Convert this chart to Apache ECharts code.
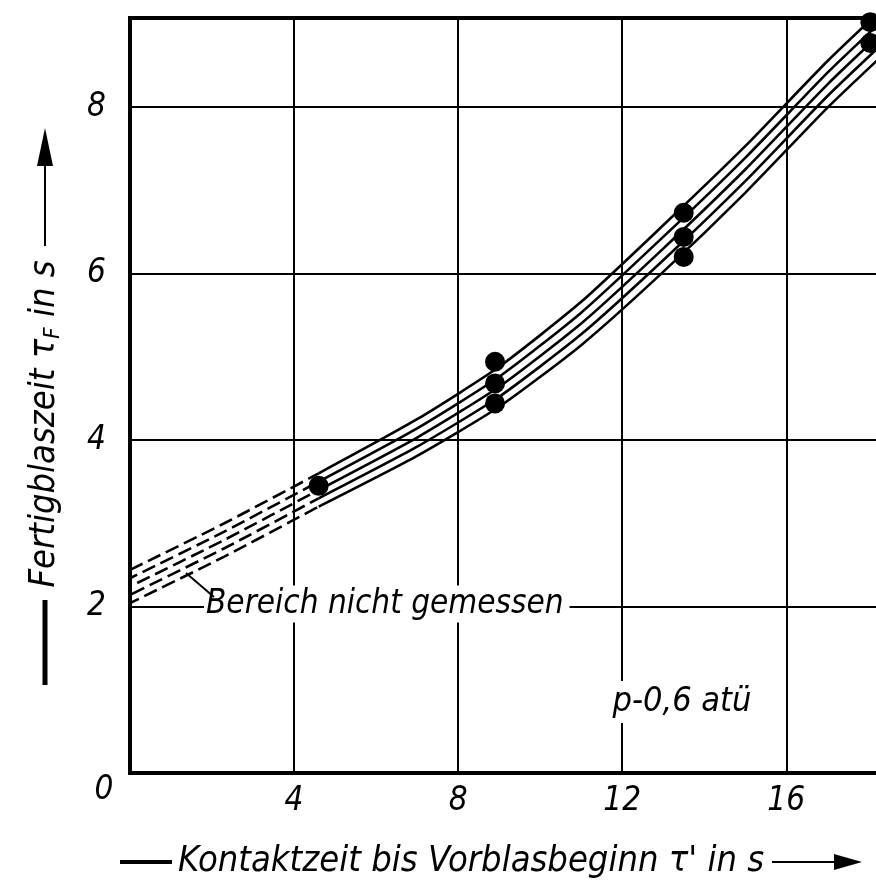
<!DOCTYPE html>
<html>
<head>
<meta charset="utf-8">
<script src="https://cdn.jsdelivr.net/npm/echarts@6/dist/echarts.min.js"></script>
<style>
  html, body { margin: 0; padding: 0; background: #fff; overflow: hidden; }
  /* the original plot runs past the right edge of the page */
  #chart { width: 900px; height: 888px; }
</style>
</head>
<body>
<div id="chart"></div>
<script>
var bandX = [0, 2.3, 4.6, 7, 9, 11, 13, 15, 17, 18.3];
// five parallel lines of the band, top to bottom
var bandA = [2.44, 3.00, 3.60, 4.25, 4.88, 5.66, 6.58, 7.53, 8.55, 9.16];
var bandB = [2.34, 2.90, 3.50, 4.14, 4.76, 5.53, 6.44, 7.39, 8.41, 9.02];
var bandC = [2.24, 2.80, 3.40, 4.03, 4.64, 5.40, 6.30, 7.25, 8.27, 8.88];
var bandD = [2.14, 2.70, 3.30, 3.92, 4.52, 5.27, 6.16, 7.11, 8.13, 8.74];
var bandE = [2.04, 2.60, 3.20, 3.81, 4.40, 5.14, 6.02, 6.97, 7.99, 8.60];
var dashedUpTo = 3; // first points (not measured) are drawn dashed

// measured points
var pointX = [4.6, 8.9, 8.9, 8.9, 13.5, 13.5, 13.5, 18.05, 18.05];
var pointY = [3.45, 4.94, 4.68, 4.44, 6.73, 6.44, 6.20, 9.02, 8.77];

var xTicks = [4, 8, 12, 16];
var yTicks = [2, 4, 6, 8];

(function () {
    let chart = echarts.init(document.querySelector('#chart'));
    let font = '"DejaVu Sans Condensed", "Liberation Sans Narrow", "DejaVu Sans", sans-serif';

    let bands = [bandA, bandB, bandC, bandD, bandE];
    let series = [];
    bands.forEach(function (ys, i) {
        let pts = bandX.map(function (x, k) { return [x, ys[k]]; });
        series.push({
            type: 'line',
            data: pts.slice(0, dashedUpTo),
            symbol: 'none',
            smooth: 0.2,
            lineStyle: { color: '#000', width: 2.6, type: [14, 6], dashOffset: i * 6 },
            z: 3
        });
        series.push({
            type: 'line',
            data: pts.slice(dashedUpTo - 1),
            symbol: 'none',
            smooth: 0.2,
            lineStyle: { color: '#000', width: 2.6 },
            z: 3
        });
    });
    series.push({
        type: 'scatter',
        data: pointX.map(function (x, k) { return [x, pointY[k]]; }),
        symbolSize: 20,
        itemStyle: { color: '#000', opacity: 1 },
        clip: false,
        z: 5
    });

    let option = {
        animation: false,
        backgroundColor: '#fff',
        grid: {
            left: 130, top: 18, right: 0, bottom: 115,
            show: true, borderColor: '#000', borderWidth: 4
        },
        xAxis: {
            type: 'value', min: 0, max: 18.7, interval: 4,
            axisLine: { show: false },
            axisTick: { show: false },
            splitLine: { lineStyle: { color: '#000', width: 2 } },
            axisLabel: {
                margin: 12,
                color: '#000', fontSize: 33, fontStyle: 'italic', fontFamily: font,
                formatter: function (v) { return xTicks.indexOf(v) >= 0 ? String(v) : ''; }
            }
        },
        yAxis: {
            type: 'value', min: 0, max: 9.07, interval: 2,
            axisLine: { show: false },
            axisTick: { show: false },
            splitLine: { lineStyle: { color: '#000', width: 2 } },
            axisLabel: {
                margin: 24,
                color: '#000', fontSize: 33, fontStyle: 'italic', fontFamily: font,
                formatter: function (v) { return yTicks.indexOf(v) >= 0 ? String(v) : ''; }
            }
        },
        series: series,
        graphic: [
            // the single "0" at the origin
            { type: 'text', x: 104, y: 790, z: 100,
              style: { text: '0', fill: '#000', font: 'italic 33px ' + font, align: 'center', verticalAlign: 'middle' } },
            // x axis title with arrow
            { type: 'line', z: 100, shape: { x1: 120, y1: 862, x2: 172, y2: 862 }, style: { stroke: '#000', lineWidth: 4 } },
            { type: 'text', x: 178, y: 862, z: 100,
              style: { text: "Kontaktzeit bis Vorblasbeginn τ' in s", fill: '#000', font: 'italic 36px ' + font, align: 'left', verticalAlign: 'middle' } },
            { type: 'line', z: 100, shape: { x1: 772, y1: 862, x2: 840, y2: 862 }, style: { stroke: '#000', lineWidth: 2 } },
            { type: 'polygon', z: 100, shape: { points: [[834, 854], [862, 862], [834, 870]] }, style: { fill: '#000' } },
            // y axis title with arrow
            { type: 'line', z: 100, shape: { x1: 45, y1: 600, x2: 45, y2: 685 }, style: { stroke: '#000', lineWidth: 5 } },
            { type: 'text', x: 45, y: 424, z: 100, rotation: Math.PI / 2,
              style: {
                  text: 'Fertigblaszeit {t|τ}{s|F} in s',
                  fill: '#000', font: 'italic 36px ' + font, align: 'center', verticalAlign: 'middle',
                  rich: {
                      t: { fill: '#000', font: 'italic 36px ' + font },
                      s: { fill: '#000', font: 'italic 22px ' + font, verticalAlign: 'bottom', padding: [16, 0, 0, 0] }
                  }
              } },
            { type: 'line', z: 100, shape: { x1: 45, y1: 246, x2: 45, y2: 160 }, style: { stroke: '#000', lineWidth: 2 } },
            { type: 'polygon', z: 100, shape: { points: [[37, 166], [45, 128], [53, 166]] }, style: { fill: '#000' } },
            // "Bereich nicht gemessen" sits on the y=2 grid line
            { type: 'text', x: 204, y: 604, z: 100,
              style: { text: 'Bereich nicht gemessen', fill: '#000', font: 'italic 33px ' + font,
                       align: 'left', verticalAlign: 'middle', backgroundColor: '#fff', padding: [2, 6, 2, 2] } },
            { type: 'line', z: 102, shape: { x1: 186, y1: 573, x2: 214, y2: 597 }, style: { stroke: '#000', lineWidth: 2 } },
            // pressure note
            { type: 'text', x: 682, y: 702, z: 100,
              style: { text: 'p-0,6 atü', fill: '#000', font: 'italic 34px ' + font,
                       align: 'center', verticalAlign: 'middle', backgroundColor: '#fff', padding: [4, 4, 4, 4] } }
        ]
    };
    chart.setOption(option);
})();
</script>
</body>
</html>
